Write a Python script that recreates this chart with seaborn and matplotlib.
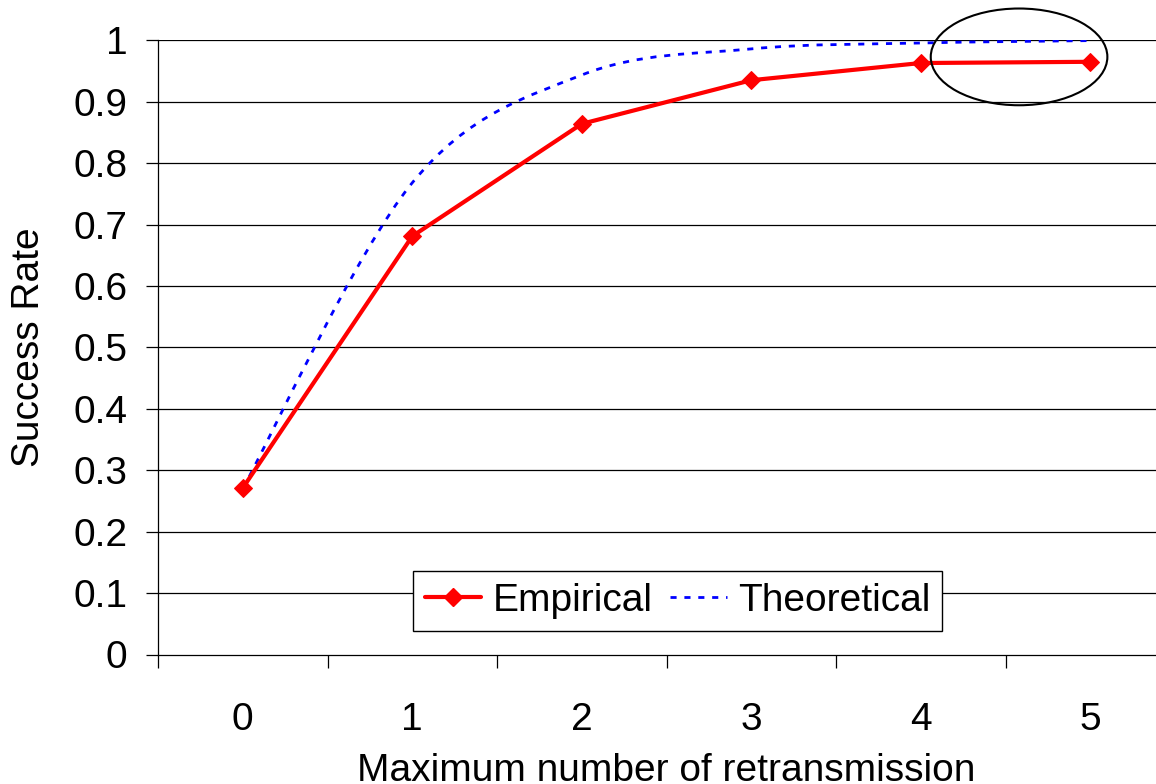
import numpy as np
import pandas as pd
import matplotlib
matplotlib.use("Agg")
import matplotlib.pyplot as plt
from matplotlib.path import Path
from matplotlib.patches import PathPatch, Ellipse
from matplotlib.lines import Line2D
import seaborn as sns

# ---- data ----
retrans = [0, 1, 2, 3, 4, 5]
empirical = [0.271, 0.681, 0.864, 0.935, 0.963, 0.965]
theoretical = [0.27, 0.768, 0.9435, 0.986, 0.9956, 0.9995]
y_ticks = [0, 0.1, 0.2, 0.3, 0.4, 0.5, 0.6, 0.7, 0.8, 0.9, 1]
y_tick_labels = ["0", "0.1", "0.2", "0.3", "0.4", "0.5", "0.6", "0.7", "0.8", "0.9", "1"]
x_tick_labels = ["0", "1", "2", "3", "4", "5"]

sns.set_theme(style="white")
plt.rcParams['font.family'] = ['Liberation Sans', 'DejaVu Sans']
plt.rcParams['text.color'] = 'black'
plt.rcParams['axes.labelcolor'] = 'black'
plt.rcParams['xtick.color'] = 'black'
plt.rcParams['ytick.color'] = 'black'
FS = 28

fig = plt.figure(figsize=(11.56, 7.84), dpi=100)
ax = fig.add_axes([158 / 1156, 1 - 654.5 / 784, 1017 / 1156, 614.2 / 784])

df = pd.DataFrame({"x": retrans, "y": empirical})

# gridlines
for yv in y_ticks[1:]:
    ax.axhline(yv, color="black", lw=0.9, zorder=0)

# theoretical smoothed (Excel-style bezier smoothing)
xs = np.array(retrans, dtype=float)
ys = np.array(theoretical, dtype=float)
pts = np.column_stack([xs, ys])
verts = [tuple(pts[0])]
codes = [Path.MOVETO]
n = len(pts)
for i in range(n - 1):
    p0 = pts[i - 1] if i > 0 else pts[i]
    p1 = pts[i]
    p2 = pts[i + 1]
    p3 = pts[i + 2] if i + 2 < n else pts[i + 1]
    c1 = p1 + (p2 - p0) / 6.0
    c2 = p2 - (p3 - p1) / 6.0
    verts += [tuple(c1), tuple(c2), tuple(p2)]
    codes += [Path.CURVE4] * 3
theo_style = dict(color="#0000FF", lw=2.0, linestyle=(0, (2.2, 2.8)))
patch = PathPatch(Path(verts, codes), fill=False, edgecolor="#0000FF",
                  lw=2.0, linestyle=(0, (2.2, 2.8)), zorder=3)
ax.add_patch(patch)

# empirical
sns.lineplot(data=df, x="x", y="y", ax=ax, color="#FF0000", lw=3,
             marker="D", markersize=9, markeredgecolor="#FF0000", zorder=4)

ax.set_xlim(-0.5, 5.5)
ax.set_ylim(0, 1)

ax.set_yticks(y_ticks)
ax.set_yticklabels(y_tick_labels, fontsize=FS)
ax.tick_params(axis="y", direction="out", length=9, width=0.9, color="black",
               pad=13, left=True)

ax.set_xticks(retrans)
ax.set_xticklabels(x_tick_labels, fontsize=FS)
ax.set_xticks(np.arange(-0.5, 5.6, 1.0), minor=True)
ax.tick_params(axis="x", which="major", length=0, pad=34)
ax.tick_params(axis="x", which="minor", direction="out", length=9, width=0.9,
               color="black", bottom=True)

for s in ["top", "right"]:
    ax.spines[s].set_visible(False)
for s in ["left", "bottom"]:
    ax.spines[s].set_color("black")
    ax.spines[s].set_linewidth(0.9)

ax.set_xlabel("Maximum number of retransmission", fontsize=FS, labelpad=11)
ax.set_ylabel("Success Rate", fontsize=FS, labelpad=19)

# ellipse highlight
ell = Ellipse((4.58, 0.973), 1.042, 0.1575, fill=False, edgecolor="black",
              lw=1.5, clip_on=False, zorder=5)
ax.add_patch(ell)

handles = [Line2D([], [], color="#FF0000", lw=3, marker="D", markersize=9),
           Line2D([], [], **theo_style)]
leg = ax.legend(handles, ["Empirical", "Theoretical"], loc="center",
                bbox_to_anchor=(0.511, 0.087), ncol=2, fontsize=FS,
                frameon=True, fancybox=False, shadow=False, framealpha=1,
                edgecolor="black", borderpad=0.3, handlelength=1.45,
                handletextpad=0.3, columnspacing=0.45, borderaxespad=0)
leg.get_frame().set_linewidth(1.0)

fig.savefig("out.png", dpi=100, facecolor="white")
